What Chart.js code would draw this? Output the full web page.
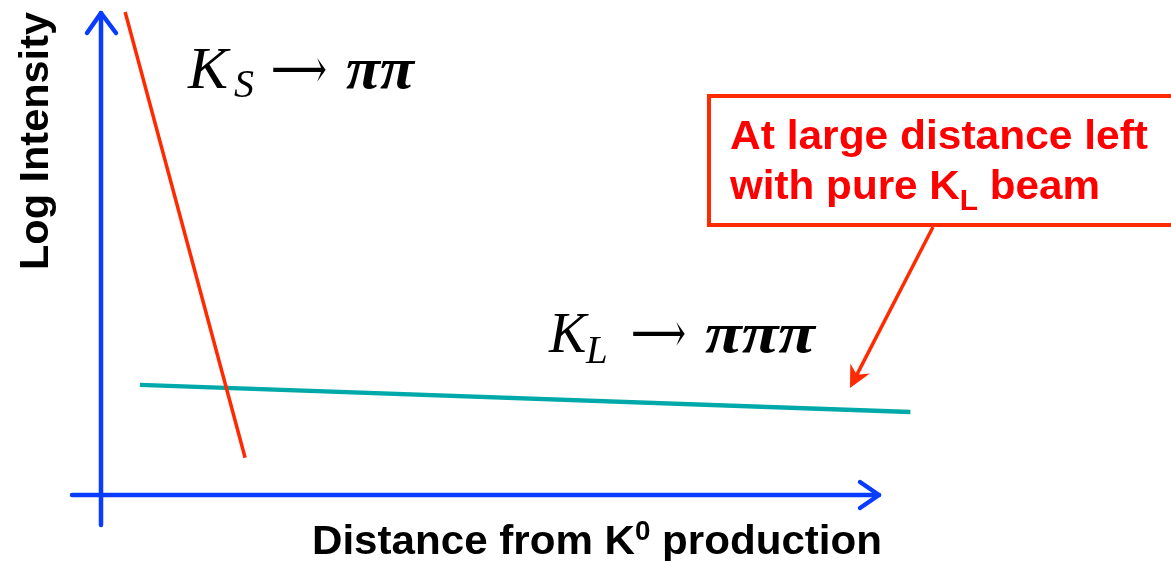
<!DOCTYPE html>
<html lang="en">
<head>
    <meta charset="UTF-8">
    <title>K0 decay intensity vs distance</title>
    <script src="https://cdn.jsdelivr.net/npm/chart.js"></script>
    <style>
        body {
            margin: 0;
            background: #fff;
        }
        canvas {
            display: block;
        }
    </style>
</head>
<body>
    <canvas id="decayChart" width="1171" height="561"></canvas>

    <script>
        // values (arbitrary units, axes run 0..10)
        const axisMax = 10;
        const ksDistance = [0.31, 1.85];
        const ksLogIntensity = [10.0, 0.77];
        const klDistance = [0.5, 10.39];
        const klLogIntensity = [2.28, 1.72];

        const axisBlue = '#0a3cff';
        const lineRed = '#ff2a00';
        const lineTeal = '#00a9a9';

        function toPoints(xs, ys) {
            return xs.map((x, i) => ({ x: x, y: ys[i] }));
        }

        // draw text, optionally squeezed/stretched to a target width
        function txt(ctx, str, x, y, font, color, width) {
            ctx.save();
            ctx.font = font;
            ctx.fillStyle = color;
            ctx.textBaseline = 'alphabetic';
            ctx.textAlign = 'left';
            ctx.translate(x, y);
            if (width) {
                const w = ctx.measureText(str).width;
                ctx.scale(width / w, 1);
            }
            ctx.fillText(str, 0, 0);
            ctx.restore();
        }

        // a run of text pieces (for sub/superscripts), scaled as a whole to a width
        function run(ctx, parts, x, y, color, width) {
            ctx.save();
            let total = 0;
            parts.forEach(p => {
                ctx.font = p.font;
                p.w = ctx.measureText(p.t).width;
                total += p.w;
            });
            ctx.translate(x, y);
            if (width) ctx.scale(width / total, 1);
            ctx.fillStyle = color;
            let cx = 0;
            parts.forEach(p => {
                ctx.font = p.font;
                ctx.fillText(p.t, cx, p.dy || 0);
                cx += p.w;
            });
            ctx.restore();
        }

        function chevron(ctx, tipX, tipY, ax, ay, bx, by) {
            ctx.beginPath();
            ctx.moveTo(tipX + ax, tipY + ay);
            ctx.lineTo(tipX, tipY);
            ctx.lineTo(tipX + bx, tipY + by);
            ctx.stroke();
        }

        const sketchAxes = {
            id: 'sketchAxes',
            beforeDatasetsDraw(chart) {
                const ctx = chart.ctx;
                const xs = chart.scales.x;
                const ys = chart.scales.y;
                const ox = xs.getPixelForValue(0);
                const oy = ys.getPixelForValue(0);
                const top = ys.getPixelForValue(axisMax);
                const right = xs.getPixelForValue(axisMax);

                ctx.save();
                ctx.strokeStyle = axisBlue;
                ctx.lineWidth = 4.5;
                ctx.lineCap = 'round';
                ctx.lineJoin = 'round';
                // y axis
                ctx.beginPath();
                ctx.moveTo(ox, oy + 30);
                ctx.lineTo(ox, top + 1);
                ctx.stroke();
                chevron(ctx, ox, top + 1, -14, 20, 15, 20);
                // x axis
                ctx.beginPath();
                ctx.moveTo(ox - 29, oy);
                ctx.lineTo(right - 1, oy);
                ctx.stroke();
                chevron(ctx, right - 1, oy, -19, -13, -19, 13);
                ctx.restore();
            },
            afterDraw(chart) {
                const ctx = chart.ctx;
                const sans = 'bold 41px "Liberation Sans", Arial, sans-serif';
                const serifFam = '"Liberation Serif", "Times New Roman", serif';
                const arrowFont = '56px "DejaVu Serif", "Liberation Serif", serif';

                // axis titles
                ctx.save();
                ctx.translate(48, 270);
                ctx.rotate(-Math.PI / 2);
                txt(ctx, 'Log Intensity', 0, 0, sans, '#000', 258);
                ctx.restore();

                run(ctx, [
                    { t: 'Distance from K', font: sans },
                    { t: '0', font: 'bold 27px "Liberation Sans", Arial, sans-serif', dy: -14 },
                    { t: ' production', font: sans }
                ], 312, 554, '#000', 570);

                // K_S -> pi pi
                txt(ctx, 'K', 188, 88, 'italic 60px ' + serifFam, '#000');
                txt(ctx, 'S', 234, 97, 'italic 40px ' + serifFam, '#000');
                txt(ctx, '\u27F6', 271, 88, arrowFont, '#000', 56);
                txt(ctx, '\u03C0\u03C0', 346, 88, 'bold italic 60px ' + serifFam, '#000', 68);

                // K_L -> pi pi pi
                txt(ctx, 'K', 549, 352, 'italic 56px ' + serifFam, '#000');
                txt(ctx, 'L', 586, 363, 'italic 39px ' + serifFam, '#000');
                txt(ctx, '\u27F6', 631, 352, arrowFont, '#000', 55);
                txt(ctx, '\u03C0\u03C0\u03C0', 705, 352, 'bold italic 56px ' + serifFam, '#000', 110);

                // callout box
                ctx.save();
                ctx.strokeStyle = lineRed;
                ctx.lineWidth = 4;
                ctx.strokeRect(709, 96, 480, 129);
                ctx.restore();
                txt(ctx, 'At large distance left', 730, 149, sans, '#ff0000', 418);
                run(ctx, [
                    { t: 'with pure K', font: sans },
                    { t: 'L', font: 'bold 29px "Liberation Sans", Arial, sans-serif', dy: 11 },
                    { t: ' beam', font: sans }
                ], 730, 199, '#ff0000', 370);

                // callout arrow towards the K_L line
                const tipX = 850, tipY = 388;
                const fromX = 933, fromY = 227;
                const ang = Math.atan2(tipY - fromY, tipX - fromX);
                ctx.save();
                ctx.strokeStyle = lineRed;
                ctx.fillStyle = lineRed;
                ctx.lineWidth = 3.5;
                ctx.beginPath();
                ctx.moveTo(fromX, fromY);
                ctx.lineTo(tipX - 10 * Math.cos(ang), tipY - 10 * Math.sin(ang));
                ctx.stroke();
                ctx.translate(tipX, tipY);
                ctx.rotate(ang);
                ctx.beginPath();
                ctx.moveTo(0, 0);
                ctx.lineTo(-22, -11);
                ctx.lineTo(-15, 0);
                ctx.lineTo(-22, 11);
                ctx.closePath();
                ctx.fill();
                ctx.restore();
            }
        };

        const ctx = document.getElementById('decayChart').getContext('2d');
        const decayChart = new Chart(ctx, {
            type: 'scatter',
            data: {
                datasets: [{
                    label: 'K_S -> pi pi',
                    data: toPoints(ksDistance, ksLogIntensity),
                    showLine: true,
                    borderColor: lineRed,
                    borderWidth: 3.5,
                    pointRadius: 0,
                    clip: false
                }, {
                    label: 'K_L -> pi pi pi',
                    data: toPoints(klDistance, klLogIntensity),
                    showLine: true,
                    borderColor: lineTeal,
                    borderWidth: 4.5,
                    pointRadius: 0,
                    clip: false
                }]
            },
            options: {
                responsive: false,
                animation: false,
                layout: {
                    padding: { left: 101, right: 291, top: 12, bottom: 66 }
                },
                plugins: {
                    legend: { display: false },
                    tooltip: { enabled: false }
                },
                scales: {
                    x: { type: 'linear', min: 0, max: axisMax, display: false },
                    y: { type: 'linear', min: 0, max: axisMax, display: false }
                }
            },
            plugins: [sketchAxes]
        });
    </script>
</body>
</html>
